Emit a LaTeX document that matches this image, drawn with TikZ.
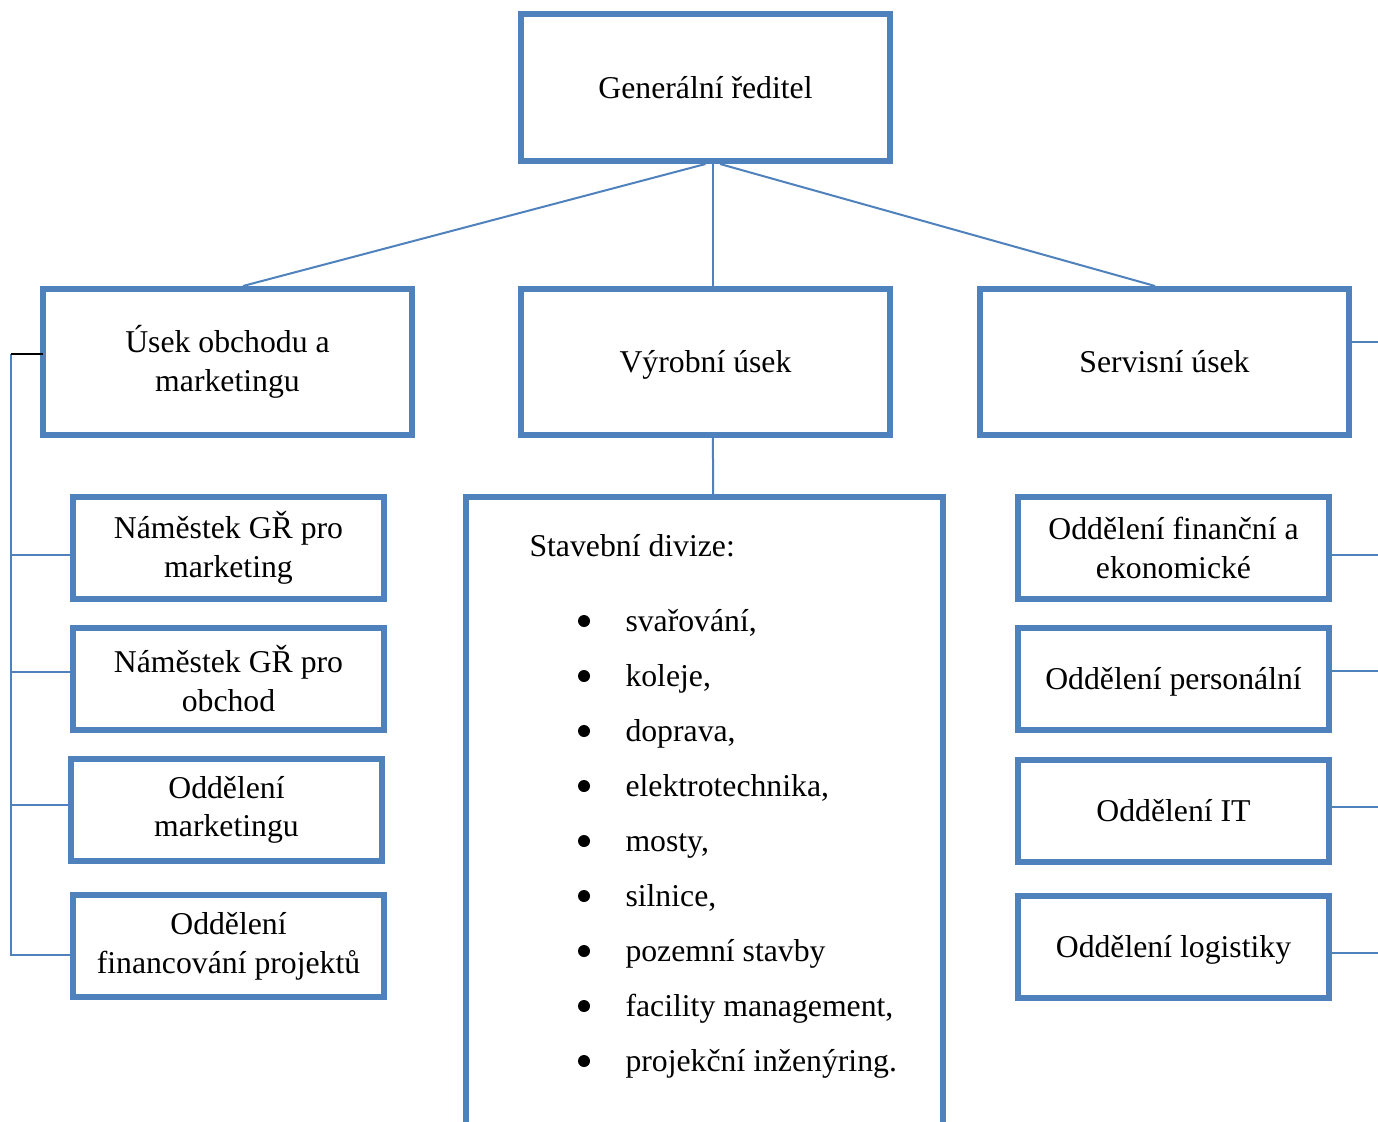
\documentclass[tikz,border=0pt]{standalone}
\usepackage{fontspec}
\setmainfont{Liberation Serif}

\definecolor{orgblue}{RGB}{79,129,189}

\tikzset{every picture/.style={line width=0.75pt}}
\tikzset{
  box/.style={draw=orgblue, line width=4.5pt, inner sep=0pt, align=center,
    font=\fontsize{23.8}{29}\selectfont},
  oneline/.style={text height=21.2pt, text depth=5.1pt},
  topbox/.style={box, minimum width=276.75pt, minimum height=110.25pt},
  unitbox/.style={box, minimum width=276.75pt, minimum height=109.5pt},
  deptbox/.style={box, minimum width=233.25pt, minimum height=76.5pt},
  conn/.style={draw=orgblue, line width=1.5pt},
  txt/.style={inner sep=0pt, font=\fontsize{23.8}{29}\selectfont}
}

\begin{document}
\begin{tikzpicture}[x=0.75pt,y=0.75pt,yscale=-1,xscale=1]
\useasboundingbox (0,0) rectangle (1378,1121);
\clip (0,0) rectangle (1378,1121);

% Boxes
\node[topbox, oneline]  (gr)   at (705.5,87.5) {Generální ředitel};
\node[unitbox]          (usek) at (227.5,362)  {Úsek obchodu a\\marketingu};
\node[unitbox, oneline] (vyr)  at (705.5,362)  {Výrobní úsek};
\node[unitbox, oneline] (serv) at (1164.5,362) {Servisní úsek};

\node[deptbox] (nm) at (228.5,548)   {Náměstek GŘ pro\\marketing};
\node[deptbox] (no) at (228.5,678.5) {Náměstek GŘ pro\\obchod};
\node[deptbox] (om) at (226.5,810)   {Oddělení\\marketingu};
\node[deptbox] (of) at (228.5,946)   {Oddělení\\financování projektů};

\node[deptbox]          (ofe) at (1173.5,548)   {Oddělení finanční a\\ekonomické};
\node[deptbox, oneline] (op)  at (1173.5,678.5) {Oddělení personální};
\node[deptbox, oneline] (oit) at (1173.5,810.5) {Oddělení IT};
\node[deptbox, oneline] (ol)  at (1173.5,946.5) {Oddělení logistiky};

\node[box, minimum width=357.75pt, minimum height=525pt, anchor=north] (stav) at (704.5,494) {};

% Text Node
\node[txt, anchor=base west] (stavh) at (529,556) {Stavební divize:};
\foreach \lbl [count=\i from 0] in {{svařování,},{koleje,},{doprava,},{elektrotechnika,},{mosty,},{silnice,},{pozemní stavby},{facility management,},{projekční inženýring.}}{
  \fill (584,{621+55*\i}) circle [radius=6];
  \node[txt, anchor=base west] (it\i) at (625,{631+55*\i}) {\lbl};
}

%Straight Lines
\draw[conn] (gr.south) -- ([xshift=11.6pt]usek.north);
\draw[conn] ([xshift=5.6pt]gr.south) -- ([xshift=5.6pt]vyr.north);
\draw[conn] ([xshift=10.9pt]gr.south) -- ([xshift=-7.1pt]serv.north);
\draw[conn] ([xshift=5.6pt]vyr.south) -- ([xshift=6.4pt]stav.north);

% left bus
\coordinate (lt) at (11,354);
\coordinate (lb) at (11,956);
\draw[conn] (lt) -- (lb);
\draw[line width=1.5pt] (lt) -- ([xshift=2pt]lt -| usek.west);
\foreach \n/\y in {nm/555, no/672, om/805, of/955}{
  \coordinate (b\n) at (11,\y);
  \draw[conn] (b\n) -- (b\n -| \n.west);
}

% right side
\foreach \n/\y in {serv/342, ofe/555, op/671, oit/807, ol/953}{
  \coordinate (r\n) at (1378,\y);
  \draw[conn] (r\n -| \n.east) -- (r\n);
}

\end{tikzpicture}
\end{document}
